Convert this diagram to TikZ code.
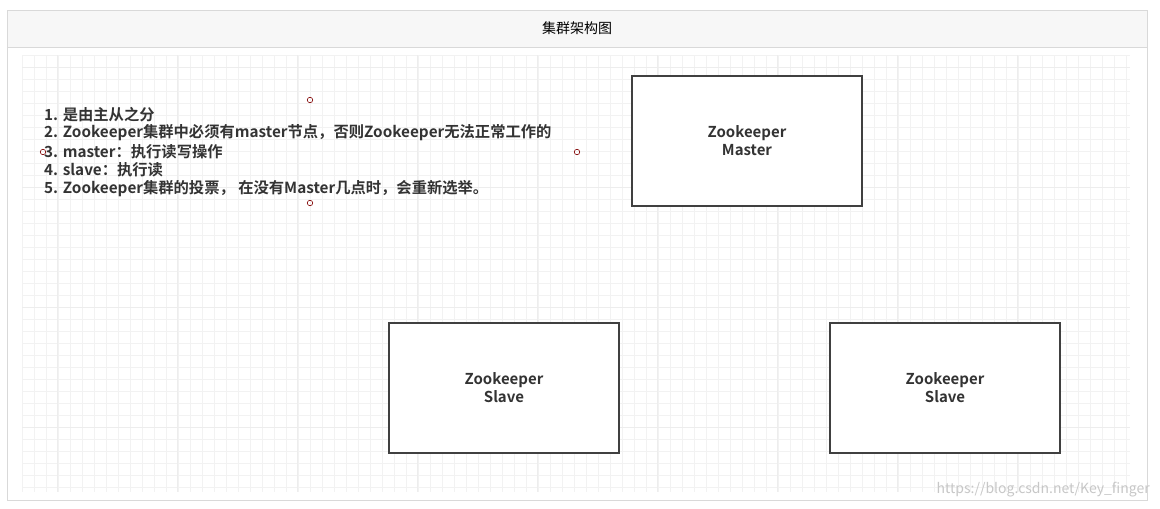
\documentclass[tikz,border=0pt]{standalone}
\usepackage{fontspec}
\setmainfont{Noto Sans CJK SC}
\newfontfamily\cjkb{Noto Sans CJK SC Bold}
\begin{document}
\begin{tikzpicture}[x=1pt,y=-1pt,
  zbox/.style={draw=black!75,line width=1.2pt,fill=white,minimum width=230pt,minimum height=130pt,font=\cjkb\fontsize{15}{18}\selectfont,align=center,text=black!80},
  handle/.style={draw=red!50!black,line width=0.6pt,circle,inner sep=0pt,minimum size=5.5pt},
  lst/.style={anchor=west,font=\cjkb\fontsize{15.3}{18}\selectfont,text=black!80,inner sep=0pt}]
\useasboundingbox (0,0) rectangle (1160,509);
\fill[white] (0,0) rectangle (1160,509);
% grid
\foreach \x in {22,34,...,1130} \draw[black!5,line width=0.5pt] (\x,55) -- (\x,492);
\foreach \y in {55,67,...,492} \draw[black!5,line width=0.5pt] (22,\y) -- (1130,\y);
\foreach \x in {57,177,297,417,537,657,777,897,1017} \draw[black!7,line width=0.6pt] (\x,55) -- (\x,492);
\foreach \y in {67,187,307,427} \draw[black!7,line width=0.6pt] (22,\y) -- (1130,\y);
% frame
\draw[black!15,fill=black!3] (7,10) rectangle (1147,47);
\draw[black!15] (7,10) rectangle (1147,500);
\node (title) at (577,28) {\fontsize{14}{16}\selectfont 集群架构图};
\node[zbox] (m) at (747,141) {Zookeeper\\Master};
\node[zbox] (s1) at (504,388) {Zookeeper\\Slave};
\node[zbox] (s2) at (945,388) {Zookeeper\\Slave};
\node[lst] (l1) at (44,115) {1. 是由主从之分};
\node[lst] (l2) at (44,133) {2. Zookeeper集群中必须有master节点，否则Zookeeper无法正常工作的};
\node[lst] (l3) at (44,152) {3. master：执行读写操作};
\node[lst] (l4) at (44,170) {4. slave：执行读};
\node[lst] (l5) at (44,189) {5. Zookeeper集群的投票， 在没有Master几点时，会重新选举。};
\node[handle] (h1) at (310,100) {};
\node[handle] (h2) at (577,152) {};
\node[handle] (h3) at (310,203) {};
\node[handle] (h4) at (43,152) {};
\node[anchor=east,text=black!22,font=\fontsize{14}{16}\selectfont,inner sep=0pt] (wm) at (1150,490) {https://blog.csdn.net/Key\_finger};
\end{tikzpicture}
\end{document}
